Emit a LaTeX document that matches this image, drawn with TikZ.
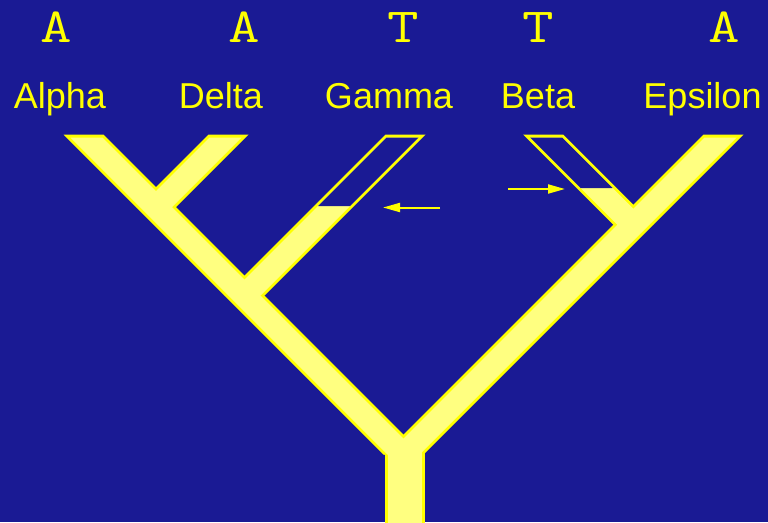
\documentclass[tikz,border=0pt]{standalone}
\usepackage{fontspec}
\setmainfont{Liberation Sans}
\usetikzlibrary{arrows.meta}
\definecolor{bgblue}{RGB}{26,26,148}
\definecolor{hiyellow}{RGB}{255,255,0}
\definecolor{paleyellow}{RGB}{255,255,128}

\begin{document}
\begin{tikzpicture}[x=1pt, y=-1pt,
  taxon/.style={text=hiyellow, font=\fontsize{36}{40}\selectfont, inner sep=0pt, anchor=base},
  nucl/.style={text=hiyellow, font=\ttfamily\fontsize{49}{54}\selectfont, inner sep=0pt, anchor=base,
    transform shape, xscale=1.25},
  pointer/.style={draw=hiyellow, line width=2pt, -{Triangle[length=17pt,width=9pt]}}]
  \fill[bgblue] (0,0) rectangle (768,522);
  \useasboundingbox (0,0) rectangle (768,522);
  \clip (0,0) rectangle (768,522);

  % branches: top centre / slant / length
  \foreach \c/\s/\l in {84/-1/319.5, 228/1/72, 405/1/160.5, 543.5/-1/89.75, 723/1/319.5}
    \fill[hiyellow, shift={(\c,135)}, xslant=\s] (-20,-0.5) rectangle (20,\l);
  \fill[hiyellow] (384.5,445) rectangle (424.5,530);
  \foreach \c/\s/\l in {84/-1/319.5, 228/1/72, 405/1/160.5, 543.5/-1/89.75, 723/1/319.5}
    \fill[paleyellow, shift={(\c,135)}, xslant=\s] (-16,2.5) rectangle (16,\l);
  \fill[paleyellow] (387.5,445) rectangle (421.5,530);
  % open tips of Gamma and Beta
  \fill[bgblue, shift={(405,135)}, xslant=1] (-16,2.5) rectangle (16,71);
  \fill[bgblue, shift={(543.5,135)}, xslant=-1] (-16,2.5) rectangle (16,53);

  \node[nucl] (sAlpha) at (56.5,42) {A};
  \node[nucl] (sDelta) at (244,42) {A};
  \node[nucl] (sGamma) at (403.5,42) {T};
  \node[nucl] (sBeta) at (538,42) {T};
  \node[nucl] (sEpsilon) at (724,42) {A};

  \node[taxon] (alpha) at (60,108) {Alpha};
  \node[taxon] (delta) at (221,108) {Delta};
  \node[taxon] (gamma) at (389,108) {Gamma};
  \node[taxon] (beta) at (538,108) {Beta};
  \node[taxon] (epsilon) at (702.5,108) {Epsilon};

  \coordinate (gtail) at (440,207.5);
  \coordinate (ghead) at (383,207.5);
  \coordinate (btail) at (508,189);
  \coordinate (bhead) at (565,189);
  \draw[pointer] (gtail) -- (ghead);
  \draw[pointer] (btail) -- (bhead);
\end{tikzpicture}
\end{document}
